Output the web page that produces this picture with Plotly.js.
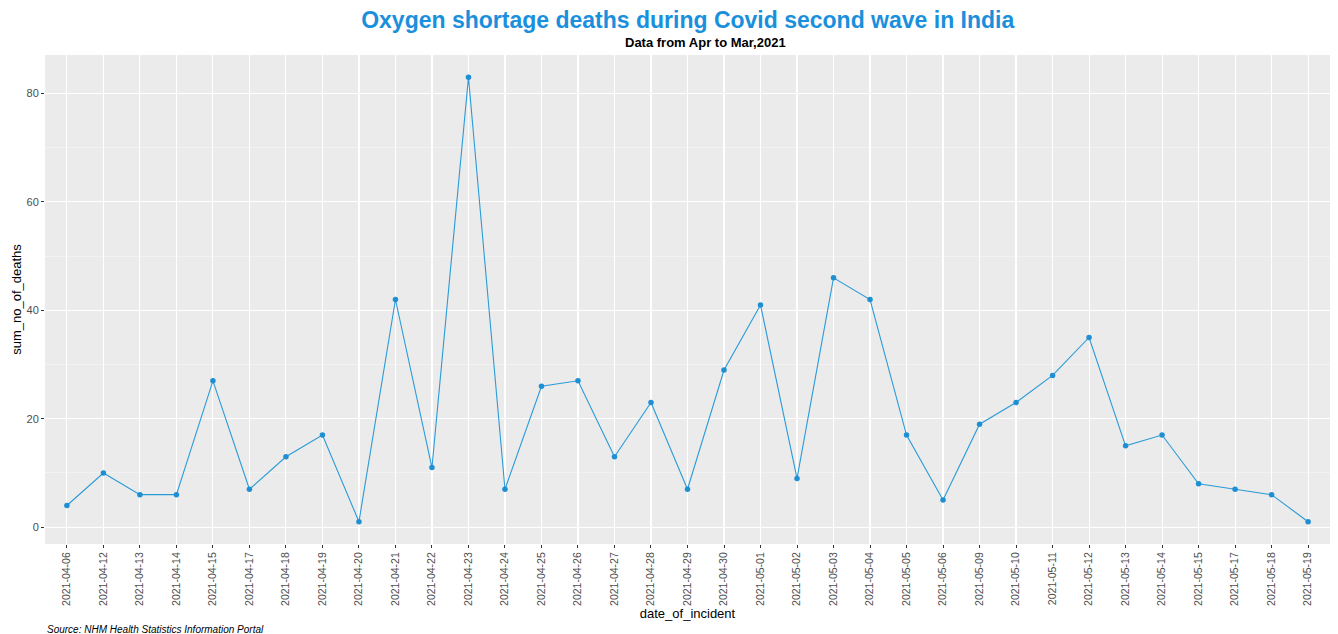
<!DOCTYPE html>
<html>
<head>
<meta charset="utf-8">
<script src="https://cdn.plot.ly/plotly-3.0.1.min.js"></script>
<style>html,body{margin:0;padding:0;background:#fff;}#chart{width:1338px;height:634px;}</style>
</head>
<body>
<div id="chart"></div>
<script>
const dates = ["2021-04-06","2021-04-12","2021-04-13","2021-04-14","2021-04-15","2021-04-17","2021-04-18","2021-04-19","2021-04-20","2021-04-21","2021-04-22","2021-04-23","2021-04-24","2021-04-25","2021-04-26","2021-04-27","2021-04-28","2021-04-29","2021-04-30","2021-05-01","2021-05-02","2021-05-03","2021-05-04","2021-05-05","2021-05-06","2021-05-09","2021-05-10","2021-05-11","2021-05-12","2021-05-13","2021-05-14","2021-05-15","2021-05-17","2021-05-18","2021-05-19"];
const deaths = [4,10,6,6,27,7,13,17,1,42,11,83,7,26,27,13,23,7,29,41,9,46,42,17,5,19,23,28,35,15,17,8,7,6,1];
const yTicks = [0,20,40,60,80];

const lineColor = '#2a9bd8';
const trace = {
  x: dates, y: deaths, type: 'scatter', mode: 'lines+markers',
  line: {color: lineColor, width: 1.1},
  marker: {color: '#1f8fd3', size: 5.5, symbol: 'circle'},
  hoverinfo: 'x+y'
};

const layout = {
  width: 1338, height: 634,
  margin: {l: 45, r: 8, t: 55, b: 90},
  paper_bgcolor: '#ffffff',
  plot_bgcolor: '#ebebeb',
  font: {family: 'Liberation Sans, Arial, sans-serif', color: '#4d4d4d'},
  showlegend: false,
  title: {
    text: 'Oxygen shortage deaths during Covid second wave in India',
    font: {size: 23, color: '#1a90dd', family: 'Liberation Sans, Arial, sans-serif', weight: 'bold'},
    x: 0.514, xanchor: 'center', y: 0.982, yanchor: 'top', yref: 'container'
  },
  xaxis: {
    type: 'category',
    categoryorder: 'array', categoryarray: dates,
    range: [-0.6, dates.length - 0.4],
    tickangle: -90,
    tickfont: {size: 10.5, color: '#4d4d4d'},
    ticks: 'outside', ticklen: 3, tickcolor: '#333333', tickwidth: 1,
    showgrid: true, gridcolor: '#ffffff', gridwidth: 1.1,
    zeroline: false, showline: false,
    title: {text: 'date_of_incident', font: {size: 13, color: '#000000'}, standoff: 1}
  },
  yaxis: {
    range: [-3.1, 87.1],
    tickvals: yTicks, ticktext: yTicks.map(String),
    tickfont: {size: 11, color: '#4d4d4d'},
    ticks: 'outside', ticklen: 3, tickcolor: '#333333', tickwidth: 1,
    showgrid: true, gridcolor: '#ffffff', gridwidth: 1.1,
    minor: {tickvals: [10,30,50,70], showgrid: true, gridcolor: '#f7f7f7', gridwidth: 0.6, ticks: ''},
    zeroline: false, showline: false,
    title: {text: 'sum_no_of_deaths', font: {size: 13, color: '#000000'}, standoff: 1}
  },
  annotations: [
    {text: '<b>Data from Apr to Mar,2021</b>', xref: 'paper', yref: 'paper', x: 0.514, y: 1, yshift: 3,
     xanchor: 'center', yanchor: 'bottom', showarrow: false, font: {size: 13, color: '#000000'}},
    {text: '<i>Source: NHM Health Statistics Information Portal</i>', xref: 'paper', yref: 'paper', x: 0, y: 0, yshift: -78,
     xanchor: 'left', yanchor: 'top', showarrow: false, font: {size: 10, color: '#000000'}}
  ]
};

Plotly.newPlot('chart', [trace], layout, {displayModeBar: false, staticPlot: true});
</script>
</body>
</html>
